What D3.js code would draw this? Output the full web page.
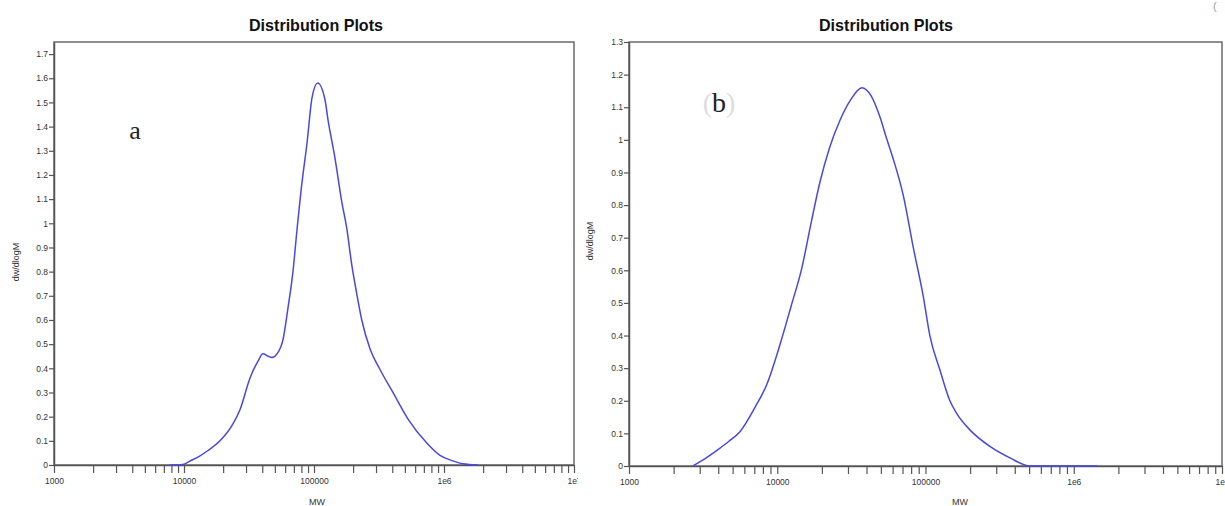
<!DOCTYPE html>
<html>
<head>
<meta charset="utf-8">
<title>Distribution Plots</title>
<script src="https://d3js.org/d3.v7.min.js"></script>
<style>
  body { margin: 0; background: #fff; }
  text { font-family: "Liberation Sans Narrow", "Liberation Sans", Arial, sans-serif; }
</style>
</head>
<body>
<div id="viz"></div>
<script>

// ---- data ----
// panel a: molecular weight vs dw/dlogM
var mwA  = [7800, 9000, 10000, 11000, 13000, 15300, 18900, 23800, 27000, 32200, 37100, 40500, 44400, 47500, 51900,
            57800, 63100, 68900, 73600, 80900, 88300, 96600, 106700, 121600, 128000, 145000, 163400, 178600,
            195000, 213000, 233000, 270000, 322000, 405000, 529000, 740000, 931000, 1170000, 1400000, 1820000];
var valA = [0, 0, 0.003, 0.015, 0.035, 0.06, 0.10, 0.17, 0.23, 0.36, 0.43, 0.46, 0.45, 0.445, 0.46,
            0.52, 0.65, 0.80, 0.96, 1.17, 1.33, 1.52, 1.58, 1.51, 1.43, 1.27, 1.09, 0.98,
            0.83, 0.71, 0.60, 0.48, 0.395, 0.30, 0.19, 0.09, 0.04, 0.017, 0.005, 0];

// panel b
var mwB  = [2700, 3200, 3980, 4700, 5600, 7080, 8500, 10400, 12400, 14700, 17000, 19400, 22500, 26500, 31000,
            37200, 43000, 49300, 55000, 60700, 70800, 82700, 96600, 107000, 125000, 146000, 163000, 200000,
            272000, 371000, 507000, 700000, 1000000, 1440000];
var valB = [0, 0.02, 0.05, 0.075, 0.105, 0.18, 0.25, 0.37, 0.49, 0.61, 0.75, 0.87, 0.975, 1.06, 1.12,
            1.16, 1.135, 1.07, 1.00, 0.94, 0.83, 0.67, 0.52, 0.40, 0.295, 0.20, 0.16, 0.11,
            0.06, 0.025, 0, 0, 0, 0];

var titles    = ["Distribution Plots", "Distribution Plots"];
var panelTags = ["a", "b"];
var yTicksA   = d3.range(0, 18).map(function(i){ return i / 10; });
var yTicksB   = d3.range(0, 14).map(function(i){ return i / 10; });
var xMajor    = [1000, 10000, 100000, 1000000, 10000000];
var xMajorLab = ["1000", "10000", "100000", "1e6", "1e7"];

var W = 1225, H = 506;
var svg = d3.select("#viz").append("svg")
    .attr("width", W).attr("height", H);

// minor ticks 2..9 for every decade
var xTicks = [];
for (var d = 1000; d < 10000000; d *= 10) {
  for (var k = 1; k < 10; k++) xTicks.push(d * k);
}
xTicks.push(10000000);

function drawPanel(opt) {
  var g = svg.append("g").attr("clip-path", "url(#" + opt.clip + ")");
  svg.append("clipPath").attr("id", opt.clip)
    .append("rect").attr("x", opt.clipX0).attr("y", 0)
    .attr("width", opt.clipX1 - opt.clipX0).attr("height", H);

  var x = d3.scaleLog().domain([1000, 10000000]).range([opt.left, opt.right]);
  var y = d3.scaleLinear().domain([0, opt.yMax]).range([opt.bottom, opt.top]);

  // frame
  g.append("rect")
    .attr("x", opt.left).attr("y", opt.top)
    .attr("width", opt.right - opt.left).attr("height", opt.bottom - opt.top)
    .attr("fill", "none").attr("stroke", "#6a6a6a").attr("stroke-width", 1.5);

  // x axis
  var xa = g.append("g")
    .attr("transform", "translate(0," + opt.bottom + ")")
    .call(d3.axisBottom(x).tickValues(xTicks).tickSize(8).tickSizeOuter(0)
      .tickFormat(function(v){
        var i = xMajor.indexOf(v);
        return i >= 0 ? xMajorLab[i] : "";
      }));
  xa.select(".domain").attr("stroke", "#555").attr("stroke-width", 1.5);
  xa.selectAll(".tick line").attr("stroke", "#555").attr("stroke-width", 1.2);
  xa.selectAll(".tick text").attr("fill", "#333").attr("font-size", 8.5).attr("dy", "0.9em");

  // y axis
  var ya = g.append("g")
    .attr("transform", "translate(" + opt.left + ",0)")
    .call(d3.axisLeft(y).tickValues(opt.yTicks).tickSize(5).tickSizeOuter(0)
      .tickFormat(function(v){ return v === 0 ? "0" : (v % 1 === 0 ? d3.format("d")(v) : d3.format(".1f")(v)); }));
  ya.select(".domain").attr("stroke", "#555").attr("stroke-width", 1.5);
  ya.selectAll(".tick line").attr("stroke", "#555").attr("stroke-width", 1.2);
  ya.selectAll(".tick text").attr("fill", "#333").attr("font-size", 8.5).attr("x", -6);

  // curve
  g.append("path")
    .datum(opt.mw.map(function(m, i){ return [m, opt.val[i]]; }))
    .attr("d", d3.line()
      .x(function(p){ return x(p[0]); })
      .y(function(p){ return y(p[1]); })
      .curve(d3.curveMonotoneX))
    .attr("fill", "none").attr("stroke", "#4848e2").attr("stroke-width", 1.5);

  // title
  g.append("text")
    .attr("x", opt.titleX).attr("y", 31)
    .attr("text-anchor", "middle")
    .attr("font-size", 17).attr("font-weight", "bold").attr("fill", "#111")
    .attr("textLength", 134).attr("lengthAdjust", "spacingAndGlyphs")
    .text(opt.title);

  // axis titles
  g.append("text")
    .attr("transform", "translate(" + opt.yLabX + "," + opt.yLabY + ") rotate(-90)")
    .attr("text-anchor", "middle").attr("font-size", 9).attr("fill", "#333")
    .text("dw/dlogM");
  g.append("text")
    .attr("x", opt.mwX).attr("y", 505)
    .attr("text-anchor", "middle").attr("font-size", 9).attr("fill", "#333")
    .text("MW");
}

drawPanel({ clip: "clipA", clipX0: 0, clipX1: 578,
  left: 54, right: 574, top: 42, bottom: 465, yMax: 1.75, yTicks: yTicksA,
  mw: mwA, val: valA, title: titles[0], titleX: 316,
  yLabX: 19, yLabY: 262, mwX: 317 });

drawPanel({ clip: "clipB", clipX0: 578, clipX1: W,
  left: 629, right: 1222, top: 42, bottom: 466, yMax: 1.3, yTicks: yTicksB,
  mw: mwB, val: valB, title: titles[1], titleX: 886,
  yLabX: 593, yLabY: 241, mwX: 960 });

// panel tags (serif, set as style so the sheet rule does not win)
svg.append("text")
  .attr("x", 135).attr("y", 139).attr("text-anchor", "middle")
  .style("font-family", "'Liberation Serif', 'DejaVu Serif', serif")
  .attr("font-size", 26).attr("fill", "#222")
  .text(panelTags[0]);

var tb = svg.append("text")
  .attr("x", 719).attr("y", 112).attr("text-anchor", "middle")
  .style("font-family", "'Liberation Serif', 'DejaVu Serif', serif")
  .attr("font-size", 28);
tb.append("tspan").attr("fill", "#ddd").text("(");
tb.append("tspan").attr("fill", "#222").text(panelTags[1]);
tb.append("tspan").attr("fill", "#ddd").text(")");

// stray bracket at the top right of the source picture
svg.append("text")
  .attr("x", 1213).attr("y", 10).attr("font-size", 11).attr("fill", "#999")
  .text("(");

</script>
</body>
</html>
